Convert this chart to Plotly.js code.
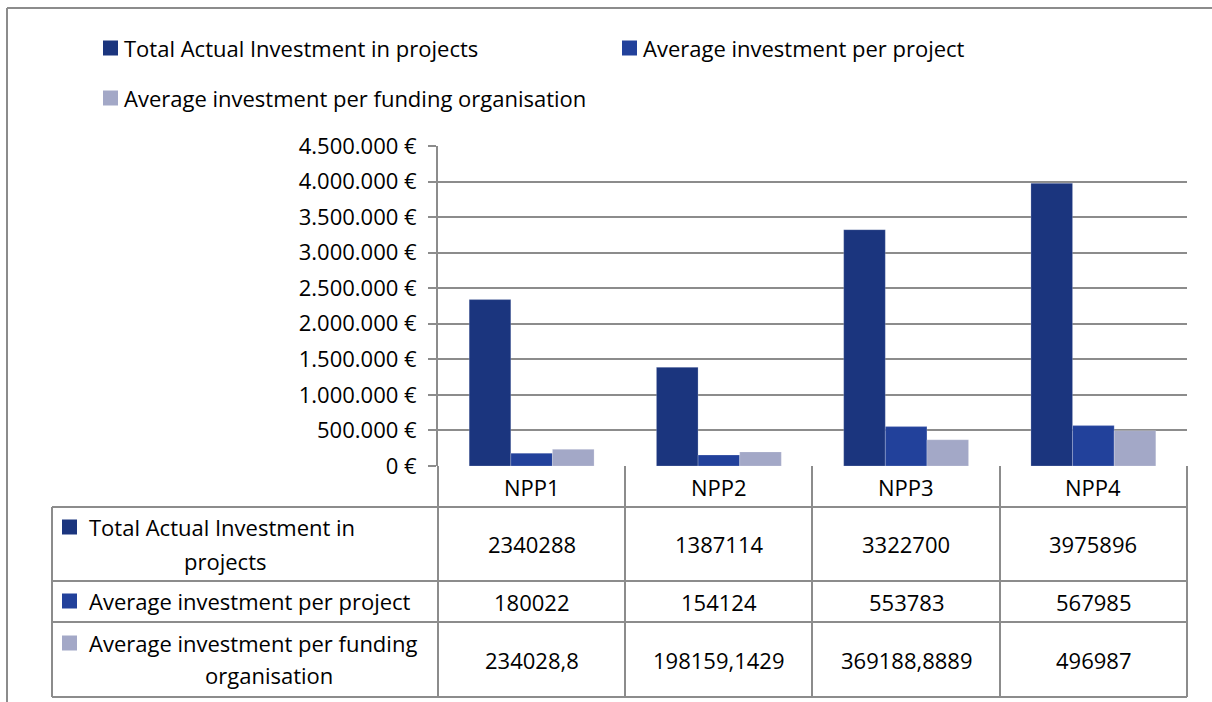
<!DOCTYPE html>
<html>
<head>
<meta charset="utf-8">
<script src="https://cdn.plot.ly/plotly-3.0.1.min.js"></script>
<style>html,body{margin:0;padding:0;background:#fff;}#chart{width:1212px;height:702px;}</style>
</head>
<body>
<div id="chart"></div>
<script>
// ---- data ----
const categories = ["NPP1", "NPP2", "NPP3", "NPP4"];
const seriesNames = ["Total Actual Investment in projects", "Average investment per project", "Average investment per funding organisation"];
const totalInvestment = [2340288, 1387114, 3322700, 3975896];
const avgPerProject = [180022, 154124, 553783, 567985];
const avgPerFundingOrg = [234028.8, 198159.1429, 369188.8889, 496987];
const yTickValues = [0, 500000, 1000000, 1500000, 2000000, 2500000, 3000000, 3500000, 4000000, 4500000];
const yTickLabels = ["0 €", "500.000 €", "1.000.000 €", "1.500.000 €", "2.000.000 €", "2.500.000 €", "3.000.000 €", "3.500.000 €", "4.000.000 €", "4.500.000 €"];
// row labels as wrapped in the data table
const rowLabelLines = [["Total Actual Investment in", "projects"], ["Average investment per project"], ["Average investment per funding", "organisation"]];
const seriesColors = ["#1b357e", "#22419b", "#a3a8c7"];

const seriesValues = [totalInvestment, avgPerProject, avgPerFundingOrg];

// ---- geometry helpers (pixel -> paper) ----
const W = 1212, H = 702;
const L = 438, R = 1187, T = 146, B = 466;
const px = x => (x - L) / (R - L);
const py = y => (B - y) / (B - T);
const FONT = "Open Sans, Liberation Sans, sans-serif";
const FS = 22;
const gridCol = "#8c8c8c";

const traces = seriesNames.map((name, i) => ({
  type: "bar", name: name, x: categories, y: seriesValues[i],
  marker: {color: seriesColors[i], line: {color: "rgba(255,255,255,0.35)", width: 0.6}},
  hoverinfo: "x+y+name"
}));

const shapes = [];
const annotations = [];
const line = (x0, y0, x1, y1, col, w) => shapes.push({type: "line", xref: "paper", yref: "paper", x0: px(x0), y0: py(y0), x1: px(x1), y1: py(y1), line: {color: col || gridCol, width: w || 2}});
const rect = (x0, y0, x1, y1, col) => shapes.push({type: "rect", xref: "paper", yref: "paper", x0: px(x0), y0: py(y0), x1: px(x1), y1: py(y1), fillcolor: col, line: {width: 0}});
const text = (x, y, t, anchor, xref) => annotations.push({xref: xref || "paper", yref: "paper", x: xref === "x" ? x : px(x), y: py(y), text: t, showarrow: false, xanchor: anchor || "center", yanchor: "middle", font: {family: FONT, size: FS, color: "#000"}});

// outer frame
line(7, 8, 1212, 8, "#8c8c8c", 2);
line(7, 8, 7, 702, "#8c8c8c", 2);

// legend
const legendPos = [[103, 48], [622, 48], [103, 98]];
seriesNames.forEach((n, i) => {
  const [lx, ly] = legendPos[i];
  rect(lx, ly - 7.5, lx + 15, ly + 7.5, seriesColors[i]);
  text(lx + 19, ly, n, "left");
});

// data table
const colEdges = [438, 625, 812, 1000, 1187];
const rowEdges = [466, 507, 581, 622, 697];
line(438, 466, 438, 697);
colEdges.slice(1).forEach(x => line(x, 466, x, 697));
rowEdges.slice(1).forEach(y => line(52, y, 1187, y));
line(52, 507, 52, 697);

// header (categories)
categories.forEach(c => text(c, 487, c, "center", "x"));

// rows
const rowLineY = [[527, 561], [601], [643, 675]];
const rowLineX = [[87, 225], [87], [87, 269]];
const rowLineAnchor = [["left", "center"], ["left"], ["left", "center"]];
const rowCenterY = [544, 601.5, 659.5];
seriesNames.forEach((n, i) => {
  rect(62, rowLineY[i][0] - 7.5, 77, rowLineY[i][0] + 7.5, seriesColors[i]);
  rowLabelLines[i].forEach((t, j) => text(rowLineX[i][j], rowLineY[i][j], t, rowLineAnchor[i][j]));
  seriesValues[i].forEach((v, k) => text(categories[k], rowCenterY[i], String(v).replace(".", ","), "center", "x"));
});

const layout = {
  width: W, height: H,
  margin: {l: L, r: W - R, t: T, b: H - B, pad: 0},
  paper_bgcolor: "#fff", plot_bgcolor: "#fff",
  barmode: "group", bargap: 0.333, bargroupgap: 0,
  showlegend: false,
  font: {family: FONT, size: FS, color: "#000"},
  xaxis: {type: "category", showticklabels: false, ticks: "", showgrid: false, zeroline: false, showline: false, fixedrange: true},
  yaxis: {
    range: [0, 4500000], tickmode: "array",
    tickvals: yTickValues, ticktext: yTickLabels,
    showgrid: true, gridcolor: gridCol, gridwidth: 2,
    zeroline: false, showline: true, linecolor: gridCol, linewidth: 2,
    ticks: "outside", ticklen: 8, tickcolor: gridCol, tickwidth: 2,
    ticklabelstandoff: 7,
    tickfont: {family: FONT, size: FS, color: "#000"}, fixedrange: true
  },
  shapes: shapes, annotations: annotations
};

Plotly.newPlot("chart", traces, layout, {displayModeBar: false, staticPlot: true});
</script>
</body>
</html>
